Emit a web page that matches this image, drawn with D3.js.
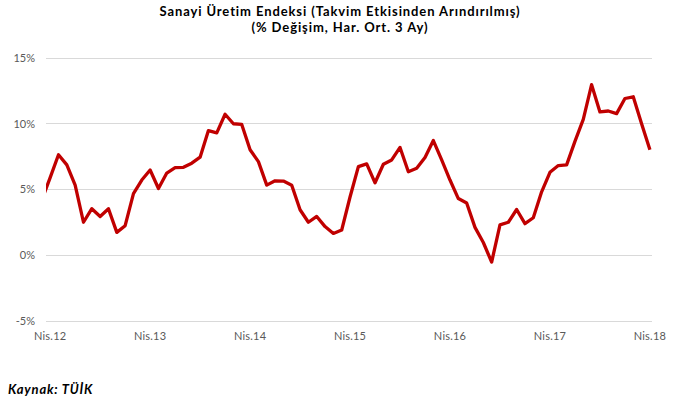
<!DOCTYPE html>
<html><head><meta charset="utf-8">
<script src="https://cdn.jsdelivr.net/npm/d3@7"></script>
<style>body{margin:0;background:#fff}</style>
</head><body>
<div id="chart"></div>
<script>
// month index 0 = Nis.12 (April 2012); first value is March 2012 (clipped by the plot area)
const startIndex = -1;
const values = [4.2, 5.9, 7.64, 6.87, 5.33, 2.51, 3.54, 2.95, 3.54, 1.74, 2.25, 4.69, 5.72,
  6.48, 5.08, 6.25, 6.66, 6.69, 7.0, 7.46, 9.48, 9.31, 10.72, 10.0, 9.95,
  8.02, 7.12, 5.33, 5.66, 5.64, 5.33, 3.46, 2.51, 2.95, 2.18, 1.66, 1.92,
  4.43, 6.74, 6.95, 5.51, 6.92, 7.25, 8.2, 6.35, 6.61, 7.43, 8.72, 7.25,
  5.72, 4.31, 3.97, 2.12, 0.97, -0.52, 2.31, 2.51, 3.48, 2.4, 2.85, 4.82,
  6.31, 6.82, 6.87, 8.66, 10.33, 12.97, 10.9, 10.97, 10.77, 11.92, 12.05, 10.0,
  8.02];
const xTickLabels = ["Nis.12", "Nis.13", "Nis.14", "Nis.15", "Nis.16", "Nis.17", "Nis.18"];
const xTickIndex = [0, 12, 24, 36, 48, 60, 72];
const yTicks = [-5, 0, 5, 10, 15];
const title1 = "Sanayi Üretim Endeksi (Takvim Etkisinden Arındırılmış)";
const title2 = "(% Değişim, Har. Ort. 3 Ay)";
const source = "Kaynak: TÜİK";

const W = 674, H = 405;
const svg = d3.select("#chart").append("svg").attr("width", W).attr("height", H);
const plot = {left: 46, right: 652, top: 58, bottom: 321};

const x = d3.scaleLinear().domain([-0.5, 72.25]).range([plot.left, plot.right]);
const y = d3.scaleLinear().domain([-5, 15]).range([plot.bottom, plot.top]);

// gridlines
svg.append("g").selectAll("line").data(yTicks).join("line")
  .attr("x1", plot.left).attr("x2", plot.right)
  .attr("y1", d => y(d)).attr("y2", d => y(d))
  .attr("stroke", "#d9d9d9").attr("stroke-width", 1).attr("shape-rendering", "crispEdges");

// y labels
svg.append("g").selectAll("text").data(yTicks).join("text")
  .attr("x", 35).attr("y", d => y(d)).attr("dy", "0.35em")
  .attr("text-anchor", "end")
  .attr("font-family", "Lato, sans-serif").attr("font-size", 11).attr("fill", "#595959")
  .text(d => d + "%");

// x labels
svg.append("g").selectAll("text").data(xTickIndex).join("text")
  .attr("x", d => x(d)).attr("y", 340)
  .attr("text-anchor", "middle")
  .attr("font-family", "Lato, sans-serif").attr("font-size", 11).attr("fill", "#595959")
  .attr("letter-spacing", 0.2)
  .text((d, i) => xTickLabels[i]);

// clip
svg.append("clipPath").attr("id", "clip").append("rect")
  .attr("x", plot.left).attr("y", 0).attr("width", plot.right - plot.left + 5).attr("height", H);

const line = d3.line().x((d, i) => x(startIndex + i)).y(d => y(d));
svg.append("path").datum(values)
  .attr("clip-path", "url(#clip)")
  .attr("d", line).attr("fill", "none")
  .attr("stroke", "#C00000").attr("stroke-width", 3.3).attr("stroke-linejoin", "round");

// titles
svg.append("text").attr("x", 340).attr("y", 16).attr("text-anchor", "middle")
  .attr("font-family", "Lato, sans-serif").attr("font-weight", "bold").attr("font-size", 13).attr("fill", "#000")
  .attr("letter-spacing", 0.9)
  .text(title1);
svg.append("text").attr("x", 340).attr("y", 32).attr("text-anchor", "middle")
  .attr("font-family", "Lato, sans-serif").attr("font-weight", "bold").attr("font-size", 13).attr("fill", "#000")
  .attr("letter-spacing", 0.9)
  .text(title2);

svg.append("text").attr("x", 8).attr("y", 394)
  .attr("font-family", "Lato, sans-serif").attr("font-weight", "bold").attr("font-style", "italic")
  .attr("font-size", 13).attr("fill", "#000").attr("letter-spacing", 0.8)
  .text(source);
</script>
</body></html>
